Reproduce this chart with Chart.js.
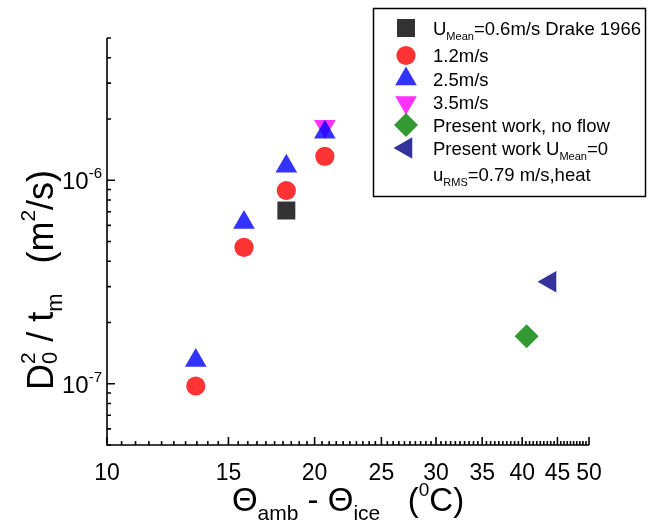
<!DOCTYPE html>
<html lang="en-US">
<head>
<meta charset="utf-8">
<title>D0^2/tm vs temperature difference</title>
<script src="https://cdn.jsdelivr.net/npm/chart.js@4.4.1/dist/chart.umd.min.js"></script>
<style>
  body { margin: 0; background: #fff; }
  canvas { display: block; }
</style>
</head>
<body>
<canvas id="chart" width="648" height="526"></canvas>
<script>
  const FONT = '"Liberation Sans", Arial, sans-serif';

  // Theta_amb - Theta_ice (deg C) and D0^2/tm (m^2/s)
  const tempDrake = [18.2];
  const diffDrake = [7.1e-7];
  const temp12 = [13.45, 15.8, 18.2, 20.7];
  const diff12 = [9.75e-8, 4.68e-7, 8.9e-7, 1.31e-6];
  const temp25 = [13.45, 15.8, 18.2, 20.7];
  const diff25 = [1.30e-7, 6.2e-7, 1.17e-6, 1.72e-6];
  const temp35 = [20.7];
  const diff35 = [1.84e-6];
  const tempNoFlow = [40.6];
  const diffNoFlow = [1.71e-7];
  const tempTurb = [43.9];
  const diffTurb = [3.17e-7];

  const xMajor = [10, 15, 20, 25, 30, 35, 40, 45, 50];
  const yMajorExp = [-7, -6];

  const COLORS = {
    black: 'rgba(0,0,0,0.8)',
    red: 'rgba(255,0,0,0.8)',
    blue: 'rgba(0,0,255,0.8)',
    magenta: 'rgba(255,0,255,0.8)',
    green: 'rgba(0,128,0,0.8)',
    navy: 'rgba(0,0,128,0.8)'
  };

  const pts = (xs, ys) => xs.map((v, i) => ({x: v, y: ys[i]}));

  const datasets = [
    {data: pts(tempDrake, diffDrake), color: COLORS.black, pointStyle: 'rect', pointRadius: 12.7, rotation: 0},
    {data: pts(temp12, diff12), color: COLORS.red, pointStyle: 'circle', pointRadius: 9.6, rotation: 0},
    {data: pts(temp25, diff25), color: COLORS.blue, pointStyle: 'triangle', pointRadius: 12.5, rotation: 0},
    {data: pts(temp35, diff35), color: COLORS.magenta, pointStyle: 'triangle', pointRadius: 12.5, rotation: 180},
    {data: pts(tempNoFlow, diffNoFlow), color: COLORS.green, pointStyle: 'rectRot', pointRadius: 12, rotation: 0},
    {data: pts(tempTurb, diffTurb), color: COLORS.navy, pointStyle: 'triangle', pointRadius: 12.5, rotation: -90}
  ].map(d => ({
    data: d.data,
    pointStyle: d.pointStyle,
    pointRadius: d.pointRadius,
    pointRotation: d.rotation,
    backgroundColor: d.color,
    borderColor: d.color,
    pointBorderWidth: 0,
    showLine: false
  }));

  const legendRows = [
    [['U', 18.5, 0], ['Mean', 11, 5], ['=0.6m/s Drake 1966', 18.5, 0]],
    [['1.2m/s', 18.5, 0]],
    [['2.5m/s', 18.5, 0]],
    [['3.5m/s', 18.5, 0]],
    [['Present work, no flow', 18.5, 0]],
    [['Present work U', 18.5, 0], ['Mean', 11, 5], ['=0', 18.5, 0]]
  ];
  const legendExtra = [['u', 18.5, 0], ['RMS', 11, 5], ['=0.79 m/s,heat', 18.5, 0]];

  // parts: [text, size, dy, advance?]
  function richWidth(ctx, parts) {
    let w = 0;
    for (const p of parts) {
      if (p[3] === 0) continue;
      ctx.font = p[1] + 'px ' + FONT;
      w += ctx.measureText(p[0]).width;
    }
    return w;
  }
  function rich(ctx, parts, x, y) {
    let cx = x;
    for (const p of parts) {
      ctx.font = p[1] + 'px ' + FONT;
      ctx.fillText(p[0], cx, y + p[2]);
      if (p[3] !== 0) cx += ctx.measureText(p[0]).width;
    }
  }

  const decor = {
    id: 'decor',
    afterDraw(chart) {
      const {ctx, chartArea: a, scales: {x, y}} = chart;
      ctx.save();
      ctx.strokeStyle = '#000';
      ctx.fillStyle = '#000';
      ctx.lineWidth = 1.6;

      // axis lines
      ctx.beginPath();
      ctx.moveTo(a.left, a.top);
      ctx.lineTo(a.left, a.bottom);
      ctx.lineTo(a.right, a.bottom);
      ctx.stroke();

      // inward ticks
      ctx.beginPath();
      for (let e = -8; e <= -6; e++) {
        for (let m = 1; m <= 9; m++) {
          const v = m * Math.pow(10, e);
          if (v < y.min * 0.999 || v > y.max * 1.001) continue;
          const py = y.getPixelForValue(v);
          ctx.moveTo(a.left, py);
          ctx.lineTo(a.left + (m === 1 ? 8 : 4), py);
        }
      }
      for (let i = 20; i <= 100; i++) {
        const v = i / 2;
        const px = x.getPixelForValue(v);
        ctx.moveTo(px, a.bottom);
        ctx.lineTo(px, a.bottom - (v % 5 === 0 ? 8 : 4));
      }
      ctx.stroke();

      // tick labels
      ctx.textBaseline = 'alphabetic';
      ctx.textAlign = 'center';
      ctx.font = '23px ' + FONT;
      xMajor.forEach(v => ctx.fillText(String(v), x.getPixelForValue(v), 480));

      ctx.textAlign = 'left';
      yMajorExp.forEach(e => {
        const py = y.getPixelForValue(Math.pow(10, e));
        const parts = [['10', 24, 0], [String(e), 15, -11]];
        const w = richWidth(ctx, parts);
        rich(ctx, parts, a.left - 5 - w, py + 9);
      });

      // axis titles
      const xt = [['Θ', 33, 0], ['amb', 21, 9], [' - ', 33, 0], ['Θ', 33, 0], ['ice', 21, 9],
                  ['   (', 33, 0], ['0', 19, -15], ['C)', 33, 0]];
      const xw = richWidth(ctx, xt);
      rich(ctx, xt, (a.left + a.right) / 2 - xw / 2, 511);

      const yt = [['D', 36, 0], ['2', 21, -18, 0], ['0', 22, 4], [' / t', 36, 0], ['m', 22, 9],
                  ['   (m', 36, 0], ['2', 21, -18], ['/s)', 36, 0]];
      const yw = richWidth(ctx, yt);
      ctx.save();
      ctx.translate(53, 280);
      ctx.rotate(-Math.PI / 2);
      rich(ctx, yt, -yw / 2, 0);
      ctx.restore();

      // legend
      ctx.lineWidth = 1.5;
      ctx.strokeRect(373.5, 8.5, 272, 188);
      const rowY = [28, 55.5, 79, 102.5, 125, 148];
      const drawPoint = Chart.helpers && Chart.helpers.drawPoint;
      chart.data.datasets.forEach((ds, i) => {
        if (drawPoint) {
          ctx.fillStyle = ds.backgroundColor;
          drawPoint(ctx, {pointStyle: ds.pointStyle, rotation: ds.pointRotation,
                          radius: ds.pointRadius, borderWidth: 0}, 406, rowY[i]);
        }
        ctx.fillStyle = '#000';
        rich(ctx, legendRows[i], 433, rowY[i] + 6.6);
      });
      rich(ctx, legendExtra, 433, 181);
      ctx.restore();
    }
  };

  new Chart(document.getElementById('chart').getContext('2d'), {
    type: 'scatter',
    data: {datasets},
    options: {
      responsive: false,
      animation: false,
      layout: {padding: {top: 38, right: 59, left: 0, bottom: 0}},
      plugins: {legend: {display: false}, tooltip: {enabled: false}},
      scales: {
        x: {
          type: 'logarithmic', min: 10, max: 50,
          grid: {display: false}, border: {display: false},
          ticks: {display: false},
          afterFit(s) { s.height = 81; }
        },
        y: {
          type: 'logarithmic', min: 5e-8, max: 5e-6,
          grid: {display: false}, border: {display: false},
          ticks: {display: false},
          afterFit(s) { s.width = 107; }
        }
      }
    },
    plugins: [decor]
  });
</script>
</body>
</html>
